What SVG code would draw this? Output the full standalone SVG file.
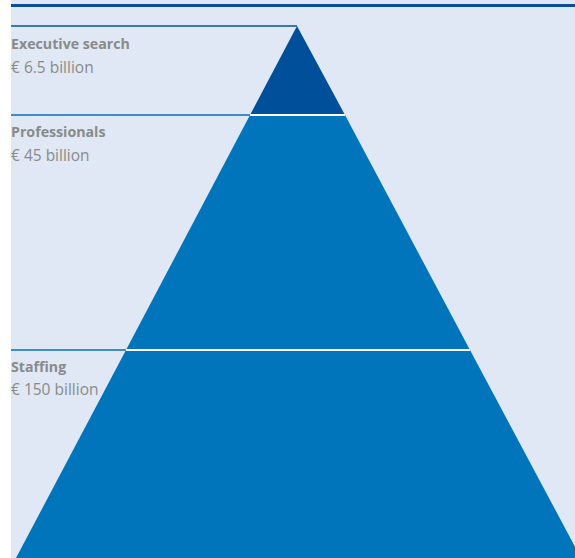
<svg xmlns="http://www.w3.org/2000/svg" width="575" height="558" viewBox="0 0 575 558">
  <style>
    .lbl { font-family: "Open Sans", "Liberation Sans", sans-serif; font-size: 15.5px; fill: #8a8a8a; }
    .name { font-weight: bold; font-size: 14.2px; }
    .rule { stroke-width: 1.6; fill: none; }
    .sep { stroke: #ffffff; stroke-width: 1.8; }
  </style>
  <rect x="0" y="0" width="575" height="558" fill="#ffffff"/>
  <rect x="11" y="0" width="564" height="558" fill="#dfe8f4"/>
  <!-- heading rule -->
  <line x1="11" y1="5.5" x2="575" y2="5.5" stroke="#0a4f98" stroke-width="3"/>

  <!-- pyramid tiers -->
  <g id="tier-staffing">
    <polygon points="126,350 470,350 581,558 16,558" fill="#0075bc"/>
  </g>
  <g id="tier-professionals">
    <polygon points="250,115 345,115 470,350 126,350" fill="#0075bc"/>
  </g>
  <g id="tier-executive">
    <polygon points="297,26 345,115 250,115" fill="#004f9a"/>
  </g>

  <!-- leader rules and tier separators -->
  <g id="connectors">
    <line class="rule" x1="11" y1="26" x2="297" y2="26" stroke="#0a4f98"/>
    <line class="rule" x1="11" y1="115" x2="250" y2="115" stroke="#0a6fb8"/>
    <line class="rule" x1="11" y1="350" x2="126" y2="350" stroke="#0a6fb8"/>
    <line class="sep" x1="250" y1="115" x2="345" y2="115"/>
    <line class="sep" x1="126" y1="350" x2="470" y2="350"/>
  </g>

  <g id="label-executive">
    <text class="lbl name" x="11" y="49">Executive search</text>
    <text class="lbl" x="11" y="72.5">€ 6.5 billion</text>
  </g>
  <g id="label-professionals">
    <text class="lbl name" x="11" y="137">Professionals</text>
    <text class="lbl" x="11" y="160.5">€ 45 billion</text>
  </g>
  <g id="label-staffing">
    <text class="lbl name" x="11" y="372">Staffing</text>
    <text class="lbl" x="11" y="394.5">€ 150 billion</text>
  </g>
</svg>
